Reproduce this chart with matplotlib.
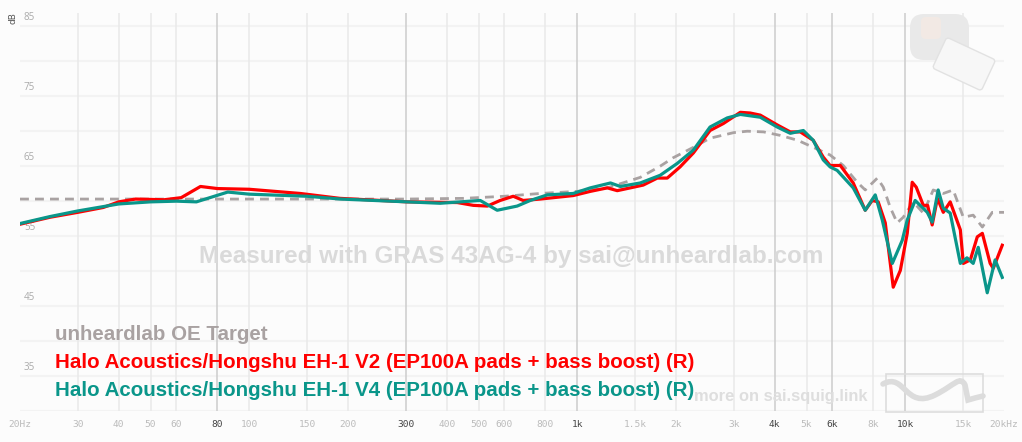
import numpy as np
import matplotlib
matplotlib.use("Agg")
import matplotlib.pyplot as plt
from matplotlib.patches import FancyBboxPatch, Rectangle, PathPatch
from matplotlib.path import Path
import matplotlib.transforms as mtransforms

# target curve (unheardlab OE Target)
tgt_f = [20, 100, 300, 450, 600, 771, 1000, 1235, 1556, 1790, 1960, 2260, 2540, 3000,
         3300, 3700, 4160, 4700, 5240, 5900, 6470, 7140, 7550, 8220, 8570, 9000, 9450,
         9860, 10570, 11350, 12170, 13060, 14000, 15030, 16110, 17180, 18420, 20000]
tgt_db = [60.3, 60.3, 60.3, 60.4, 60.7, 61.1, 61.4, 61.9, 63.4, 65.0, 66.2, 67.7, 69.0, 69.8,
          70.0, 69.9, 69.4, 68.7, 67.7, 66.6, 65.1, 62.7, 61.6, 63.3, 62.0, 59.1, 56.9,
          57.7, 59.9, 58.3, 61.6, 61.1, 61.6, 57.7, 58.0, 56.3, 58.4, 58.4]

# EH-1 V2 (red)
v2_f = [20, 24.7, 30, 35.9, 40, 45, 55, 62, 71, 80, 100, 143, 189, 303, 431, 482, 532,
        582, 638, 684, 771, 972, 1096, 1235, 1324, 1451, 1589, 1754, 1881, 2058, 2260,
        2540, 2789, 3141, 3367, 3613, 4070, 4460, 4786, 5240, 5623, 5900, 6340, 6940,
        7550, 7930, 8270, 8690, 9190, 9660, 10140, 10500, 10800, 11350, 11700, 12080,
        12530, 13060, 13710, 14720, 15030, 15790, 16580, 17180, 18150, 18550, 19760]
v2_db = [56.7, 57.7, 58.4, 59.1, 59.9, 60.3, 60.2, 60.5, 62.1, 61.8, 61.7, 61.1, 60.4,
         59.9, 59.8, 59.4, 59.3, 60.1, 60.7, 60.1, 60.3, 60.8, 61.4, 61.9, 61.5, 61.9,
         62.3, 63.3, 63.3, 64.9, 66.9, 70.1, 71.1, 72.7, 72.6, 72.3, 70.9, 69.9, 69.9,
         68.7, 66.3, 65.1, 65.1, 62.6, 58.7, 60.1, 59.9, 56.9, 47.7, 50.1, 55.4, 62.7,
         62.0, 59.4, 59.4, 56.6, 60.4, 58.4, 59.9, 55.9, 51.1, 51.6, 54.9, 55.4, 51.1,
         50.4, 53.7]

# EH-1 V4 (teal)
v4_f = [20, 24.7, 30, 40, 50, 60, 69, 86, 100, 150, 190, 382, 506, 570, 656, 719, 811,
        972, 1096, 1263, 1353, 1556, 1790, 2018, 2260, 2540, 2865, 3141, 3613, 4070,
        4460, 4890, 5240, 5623, 5900, 6200, 6940, 7550, 8100, 8510, 9130, 9790, 10140,
        10720, 11670, 12080, 12600, 13060, 13710, 14720, 15420, 16110, 16690, 17780,
        18790, 19760]
v4_db = [56.8, 57.8, 58.6, 59.6, 59.9, 60.0, 59.9, 61.3, 61.0, 60.7, 60.3, 59.7, 60.1,
         58.7, 59.3, 60.1, 60.9, 61.1, 61.9, 62.6, 62.1, 62.6, 63.7, 65.4, 67.3, 70.6,
         71.9, 72.4, 72.0, 70.6, 69.7, 70.1, 68.7, 65.9, 64.9, 64.4, 61.9, 58.7, 60.9,
         57.3, 51.1, 54.4, 57.3, 60.1, 58.4, 57.0, 61.6, 59.0, 58.3, 51.1, 51.9, 51.1,
         53.4, 46.9, 51.6, 49.1]

xticks = [20, 30, 40, 50, 60, 80, 100, 150, 200, 300, 400, 500, 600, 800, 1000, 1500,
          2000, 3000, 4000, 5000, 6000, 8000, 10000, 15000, 20000]
xlabels = ['20Hz', '30', '40', '50', '60', '80', '100', '150', '200', '300', '400', '500',
           '600', '800', '1k', '1.5k', '2k', '3k', '4k', '5k', '6k', '8k', '10k', '15k', '20kHz']
strong = [80, 300, 1000, 4000, 6000, 10000]
ylabels = [35, 45, 55, 65, 75, 85]

W, H = 1022, 442
fig = plt.figure(figsize=(W / 100, H / 100), dpi=100, facecolor='#fcfcfc')
ax = fig.add_axes([20 / W, 1 - 411 / H, 984 / W, 398 / H])
ax.set_facecolor('none')
ax.set_xscale('log')
ax.set_xlim(20, 20000)
ax.set_ylim(30, 86.9)
for s in ax.spines.values():
    s.set_visible(False)
ax.set_xticks([])
ax.set_yticks([])
ax.minorticks_off()

# grid
for v in range(30, 90, 5):
    ax.axhline(v, color='#f3f3f3', lw=1.5, zorder=0)
for f in xticks[1:-1]:
    ax.axvline(f, color='#cdcdcd' if f in strong else '#e9e9e9', lw=1.1, zorder=0)

# tick labels
for f, lab in zip(xticks, xlabels):
    ax.text(f, -0.035, lab, transform=ax.get_xaxis_transform(), ha='center', va='center',
            family='DejaVu Sans Mono', fontsize=6.8,
            color='#444444' if f in strong else '#bbbbbb')
for v in ylabels:
    ax.text(0.004, v + 0.4, str(v), transform=ax.get_yaxis_transform(), ha='left',
            va='bottom', fontsize=7, color='#aaaaaa', family='Open Sans')
fig.text(13 / W, 1 - 18 / H, 'dB', rotation=90, ha='center', va='center', fontsize=6.5,
         color='#555555')

# watermark texts
fig.text(511 / W, 1 - 256 / H, 'Measured with GRAS 43AG-4 by sai@unheardlab.com',
         ha='center', va='center', fontsize=17.5, fontweight='bold',
         family='Liberation Sans', color='#dadada', zorder=1)
fig.text(781 / W, 1 - 397 / H, 'more on sai.squig.link', ha='center', va='center',
         fontsize=11.9, fontweight='bold', family='Liberation Sans', color='#dedede')

# squig logo
pix = mtransforms.IdentityTransform()
fig.patches.append(Rectangle((886, H - 412), 97, 38, fill=False, ec='#dddddd', lw=1.2,
                             transform=pix, figure=fig))
wave = Path([(883, H - 384), (905, H - 372), (905, H - 410), (935, H - 395),
             (955, H - 385), (960, H - 375), (965, H - 385), (968, H - 400),
             (975, H - 398), (983, H - 396)],
            [Path.MOVETO, Path.CURVE4, Path.CURVE4, Path.CURVE4, Path.CURVE4, Path.CURVE4,
             Path.CURVE4, Path.LINETO, Path.LINETO, Path.LINETO])
fig.patches.append(PathPatch(wave, fill=False, ec='#dcdcdc', lw=4, capstyle='round',
                             transform=pix, figure=fig))

# rig image placeholder (top right)
fig.patches.append(FancyBboxPatch((912, H - 58), 55, 42, boxstyle='round,pad=2,rounding_size=14',
                                  fc='#e9e9e9', ec='none', transform=pix, figure=fig))
box = FancyBboxPatch((938, H - 80), 52, 32, boxstyle='round,pad=1,rounding_size=3',
                     fc='#f7f7f7', ec='#e2e2e2', lw=1, figure=fig)
box.set_transform(mtransforms.Affine2D().rotate_deg_around(964, H - 64, -25) + pix)
fig.patches.append(box)
fig.patches.append(FancyBboxPatch((922, H - 38), 18, 20, boxstyle='round,pad=1,rounding_size=5',
                                  fc='#f2e9e4', ec='none', transform=pix, figure=fig))

# curves
ax.plot(tgt_f, tgt_db, color='#a9a2a2', lw=2.0, ls=(0, (3.2, 2.2)), zorder=3)
ax.plot(v2_f, v2_db, color='#ff0000', lw=2.3, zorder=4, solid_joinstyle='round')
ax.plot(v4_f, v4_db, color='#0a968a', lw=2.3, zorder=5, solid_joinstyle='round')

# legend texts
names = ['unheardlab OE Target',
         'Halo Acoustics/Hongshu EH-1 V2 (EP100A pads + bass boost) (R)',
         'Halo Acoustics/Hongshu EH-1 V4 (EP100A pads + bass boost) (R)']
cols = ['#a9a2a2', '#ff0000', '#0a968a']
for i, (n, c) in enumerate(zip(names, cols)):
    fig.text(55 / W, 1 - (335 + 28 * i) / H, n, ha='left', va='center', fontsize=14.8,
             fontweight='bold', family='Liberation Sans', color=c, zorder=6)

fig.savefig('out.png', dpi=100, facecolor=fig.get_facecolor())
